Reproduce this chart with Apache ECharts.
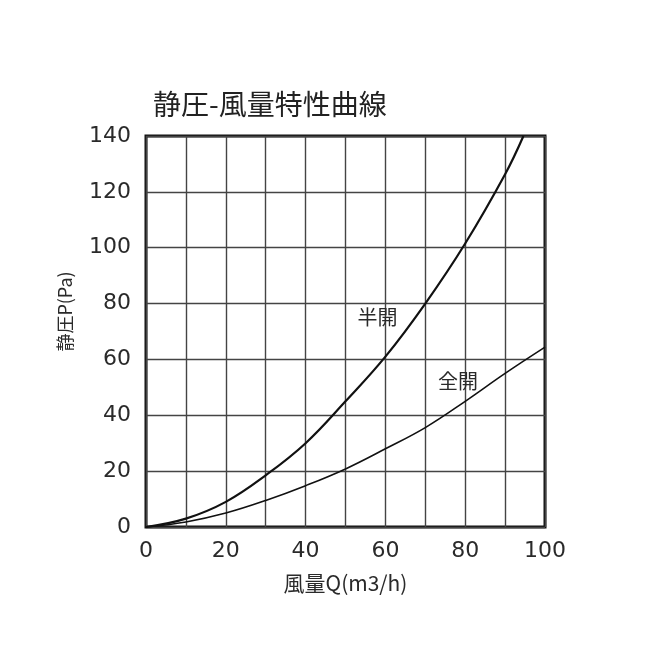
<!DOCTYPE html>
<html>
<head>
<meta charset="utf-8">
<script src="https://cdn.jsdelivr.net/npm/echarts@6/dist/echarts.min.js"></script>
<style>
html,body{margin:0;padding:0;background:#fff;}
#c{width:650px;height:650px;}
</style>
</head>
<body>
<div id="c"></div>
<script>
var title = '静圧-風量特性曲線';
var xName = '風量Q(m3/h)';
var yName = '静圧P(Pa)';
var halfName = '半開';
var fullName = '全開';
var halfX = [0, 10, 20, 30, 40, 50, 60, 70, 80, 90, 94.6];
var halfY = [0, 3, 9, 18.5, 30, 45, 61, 80, 101.5, 126.3, 140];
var fullX = [0, 10, 20, 30, 40, 50, 60, 70, 80, 90, 100];
var fullY = [0, 1.8, 5, 9.5, 14.8, 20.8, 28, 35.6, 45, 55, 64.4];
var halfLabelAt = [58, 75];
var fullLabelAt = [78.2, 52.3];

function pairs(xs, ys) { return xs.map(function (x, i) { return [x, ys[i]]; }); }

var numFont = 'DejaVu Sans';
var cjkFont = '"Noto Sans CJK JP", "DejaVu Sans"';

var chart = echarts.init(document.getElementById('c'), null, {renderer: 'canvas'});
chart.setOption({
  animation: false,
  backgroundColor: '#fff',
  title: {
    text: title, left: 148, top: 85,
    textStyle: {fontFamily: cjkFont, fontSize: 28, fontWeight: 'normal', color: '#222'}
  },
  grid: {left: 146, right: 105, top: 136, bottom: 123, show: true, borderColor: '#111', borderWidth: 3, backgroundColor: 'transparent'},
  xAxis: {
    type: 'value', min: 0, max: 100, interval: 10,
    name: xName, nameLocation: 'middle', nameGap: 46,
    nameTextStyle: {fontFamily: cjkFont, fontSize: 21, color: '#2a2a2a'},
    axisLine: {show: false}, axisTick: {show: false},
    axisLabel: {margin: 13, fontFamily: numFont, fontSize: 22, color: '#2a2a2a',
      formatter: function (v) { return v % 20 === 0 ? String(v) : ''; }},
    splitLine: {show: true, lineStyle: {color: '#444', width: 1.4}}
  },
  yAxis: {
    type: 'value', min: 0, max: 140, interval: 20,
    name: yName, nameLocation: 'middle', nameGap: 72, nameRotate: 90,
    nameTextStyle: {fontFamily: cjkFont, fontSize: 18, color: '#2a2a2a', padding: [0, 0, 0, 40]},
    axisLine: {show: false}, axisTick: {show: false},
    axisLabel: {margin: 15, fontFamily: numFont, fontSize: 22, color: '#2a2a2a'},
    splitLine: {show: true, lineStyle: {color: '#444', width: 1.4}}
  },
  series: [
    {
      name: halfName, type: 'line', smooth: 0.4, symbol: 'none', clip: true,
      data: pairs(halfX, halfY),
      lineStyle: {color: '#111', width: 2.2},
      markPoint: {
        symbol: 'circle', symbolSize: 0,
        label: {show: true, formatter: halfName, fontFamily: cjkFont, fontSize: 20, color: '#2a2a2a', position: 'inside'},
        data: [{coord: halfLabelAt}]
      }
    },
    {
      name: fullName, type: 'line', smooth: 0.4, symbol: 'none', clip: true,
      data: pairs(fullX, fullY),
      lineStyle: {color: '#111', width: 1.6},
      markPoint: {
        symbol: 'circle', symbolSize: 0,
        label: {show: true, formatter: fullName, fontFamily: cjkFont, fontSize: 20, color: '#2a2a2a', position: 'inside'},
        data: [{coord: fullLabelAt}]
      }
    }
  ]
});
</script>
</body>
</html>
